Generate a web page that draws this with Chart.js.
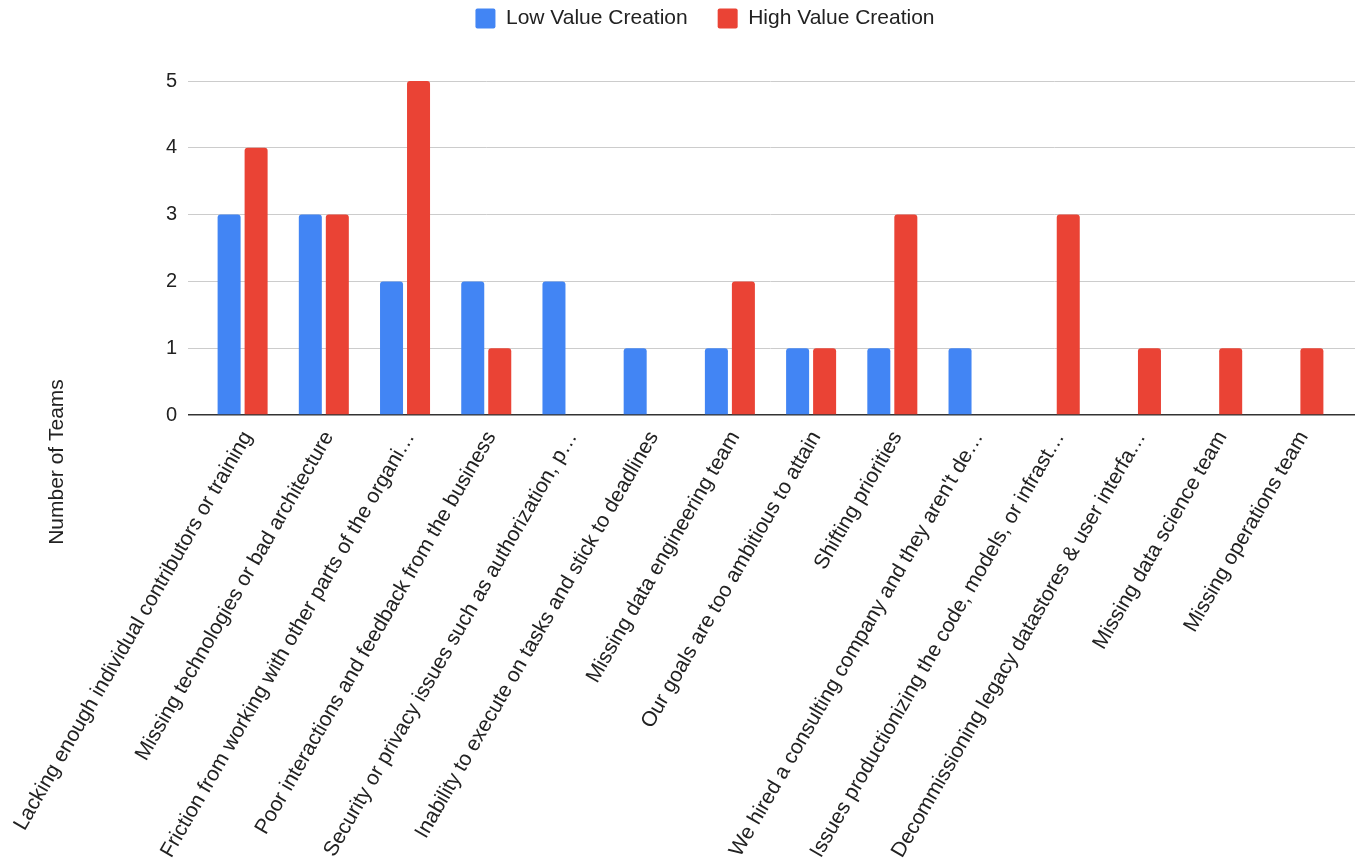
<!DOCTYPE html>
<html>
<head>
<meta charset="utf-8">
<script src="https://cdn.jsdelivr.net/npm/chart.js@4.4.1/dist/chart.umd.min.js"></script>
<style>
    html, body { margin: 0; padding: 0; background: #fff; }
    #wrap { width: 1355px; height: 865px; }
</style>
</head>
<body>
<div id="wrap"><canvas id="teamsChart"></canvas></div>
<script>
const categories = [
    'Lacking enough individual contributors or training',
    'Missing technologies or bad architecture',
    'Friction from working with other parts of the organi\u2026',
    'Poor interactions and feedback from the business',
    'Security or privacy issues such as authorization, p\u2026',
    'Inability to execute on tasks and stick to deadlines',
    'Missing data engineering team',
    'Our goals are too ambitious to attain',
    'Shifting priorities',
    'We hired a consulting company and they aren\'t de\u2026',
    'Issues productionizing the code, models, or infrast\u2026',
    'Decommissioning legacy datastores & user interfa\u2026',
    'Missing data science team',
    'Missing operations team'
];
const lowValues = [3, 3, 2, 2, 2, 1, 1, 1, 1, 1, 0, 0, 0, 0];
const highValues = [4, 3, 5, 1, 0, 0, 2, 1, 3, 0, 3, 1, 1, 1];
const yTicks = [0, 1, 2, 3, 4, 5];
const seriesNames = ['Low Value Creation', 'High Value Creation'];
const axisTitle = 'Number of Teams';

const fontFamily = '"Liberation Sans", Arial, sans-serif';
const textColor = '#222222';

function gridColor(v) {
    return v === 0 ? '#333333' : '#cccccc';
}
function gridWidth(v) {
    return v === 0 ? 1.5 : 1;
}

// push the plot down below the legend
const legendSpacer = {
    id: 'legendSpacer',
    beforeInit(chart) {
        const origFit = chart.legend.fit;
        chart.legend.fit = function () {
            origFit.bind(chart.legend)();
            this.height += 42;
        };
    }
};

// gridlines run a bit past the right edge of the plot
const gridExtend = {
    id: 'gridExtend',
    beforeDatasetsDraw(chart) {
        const {ctx, chartArea, scales} = chart;
        ctx.save();
        scales.y.ticks.forEach(t => {
            const w = gridWidth(t.value);
            const y = Math.round(scales.y.getPixelForValue(t.value) - w / 2) + w / 2;
            ctx.strokeStyle = gridColor(t.value);
            ctx.lineWidth = w;
            ctx.beginPath();
            ctx.moveTo(chartArea.right, y);
            ctx.lineTo(chartArea.right + 16, y);
            ctx.stroke();
        });
        ctx.restore();
    }
};

// axis title sits lower than chart.js would put it
const yTitle = {
    id: 'yTitle',
    afterDraw(chart) {
        const ctx = chart.ctx;
        ctx.save();
        ctx.translate(57, 462);
        ctx.rotate(-Math.PI / 2);
        ctx.font = '21px ' + fontFamily;
        ctx.fillStyle = textColor;
        ctx.textAlign = 'center';
        ctx.textBaseline = 'middle';
        ctx.fillText(axisTitle, 0, 0);
        ctx.restore();
    }
};

const teamsChart = document.getElementById('teamsChart');
const myTeamsChart = new Chart(teamsChart, {
    type: 'bar',
    data: {
        labels: categories,
        datasets: [{
            label: seriesNames[0],
            data: lowValues,
            backgroundColor: '#4285f4',
            borderRadius: 3,
            categoryPercentage: 0.665,
            barPercentage: 0.852
        }, {
            label: seriesNames[1],
            data: highValues,
            backgroundColor: '#ea4335',
            borderRadius: 3,
            categoryPercentage: 0.665,
            barPercentage: 0.852
        }]
    },
    plugins: [legendSpacer, gridExtend, yTitle],
    options: {
        responsive: true,
        maintainAspectRatio: false,
        animation: false,
        layout: {
            padding: {
                top: -22,
                left: 71,
                right: 16,
                bottom: 0
            }
        },
        plugins: {
            legend: {
                display: true,
                position: 'top',
                align: 'center',
                labels: {
                    color: textColor,
                    font: { family: fontFamily, size: 21 },
                    boxWidth: 20,
                    boxHeight: 20,
                    useBorderRadius: true,
                    borderRadius: 2,
                    padding: 30
                }
            },
            tooltip: { enabled: false }
        },
        scales: {
            x: {
                grid: { display: false },
                border: { display: false },
                ticks: {
                    color: textColor,
                    font: { family: fontFamily, size: 21 },
                    autoSkip: false,
                    minRotation: 60,
                    maxRotation: 60,
                    labelOffset: 5,
                    padding: 4
                },
                afterFit: (scale) => {
                    scale.height = 450;
                    scale.paddingLeft = 0;
                    scale.paddingRight = 0;
                }
            },
            y: {
                min: yTicks[0],
                max: yTicks[yTicks.length - 1],
                border: { display: false },
                grid: {
                    color: (c) => gridColor(c.tick ? c.tick.value : null),
                    lineWidth: (c) => gridWidth(c.tick ? c.tick.value : null),
                    tickLength: 14
                },
                ticks: {
                    stepSize: 1,
                    color: textColor,
                    font: { family: fontFamily, size: 20 },
                    padding: 11
                },
                afterFit: (scale) => {
                    scale.width = 131;
                }
            }
        }
    }
});
</script>
</body>
</html>
